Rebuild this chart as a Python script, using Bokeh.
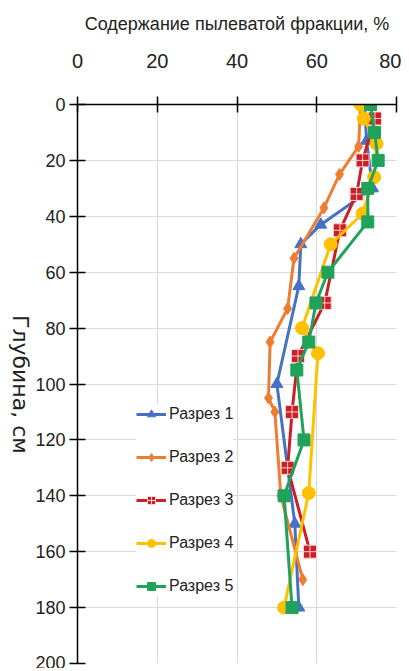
import math
from bokeh.plotting import figure
from bokeh.layouts import row
from bokeh.models import Range1d, FixedTicker, Label
from bokeh.embed import file_html
from bokeh.resources import INLINE

# ---- data ----
x_ticks = [0, 20, 40, 60, 80]
y_ticks = [0, 20, 40, 60, 80, 100, 120, 140, 160, 180, 200]

names = ["Разрез 1", "Разрез 2", "Разрез 3", "Разрез 4", "Разрез 5"]

depth1 = [0, 13, 30, 43, 50, 65, 100, 150, 180]
silt1 = [72, 72.5, 74, 61, 56, 55.5, 50, 54.5, 55.5]

depth2 = [0, 15, 25, 37, 55, 73, 85, 105, 110, 140, 170]
silt2 = [71, 70.5, 65.7, 61.8, 54.3, 52.7, 48.3, 47.9, 49.5, 51, 56.5]

depth3 = [5, 20, 32, 45, 71, 90, 110, 130, 160]
silt3 = [74.6, 71.5, 70, 65.8, 62, 55.3, 53.8, 52.7, 58.3]

depth4 = [0, 5, 14, 26, 39, 50, 80, 89, 139, 180]
silt4 = [71, 71.8, 75, 74.4, 71.5, 63.5, 56.3, 60.3, 58, 51.8]

depth5 = [0, 10, 20, 30, 42, 60, 71, 85, 95, 120, 140, 180]
silt5 = [73.5, 74.5, 75.4, 72.8, 72.8, 62.8, 59.8, 58, 55, 56.8, 51.8, 53.8]

x_title = "Содержание пылеватой фракции, %"
y_title = "Глубина, см"

FONT = "Liberation Sans"
H = 668
LW_FIG = 32

# ---- narrow strip holding the rotated y title (reads top to bottom) ----
lab = figure(width=LW_FIG, height=H, output_backend="svg", toolbar_location=None,
             x_range=Range1d(0, LW_FIG), y_range=Range1d(0, H),
             min_border=0)
lab.axis.visible = False
lab.grid.visible = False
lab.outline_line_color = None
lab.add_layout(Label(x=19.5, y=333.5, text=y_title, angle=-math.pi / 2,
                     text_align="center", text_baseline="middle",
                     text_font="DejaVu Sans", text_font_size="22px",
                     text_color="#222222"))

# ---- main chart ----
p = figure(width=401 - LW_FIG, height=H, output_backend="svg", toolbar_location=None,
           x_range=Range1d(0, 80), y_range=Range1d(200, 0),
           x_axis_location="above",
           min_border_left=77 - LW_FIG, min_border_right=5, min_border_top=104,
           min_border_bottom=5)
p.outline_line_color = None
p.background_fill_color = "white"

xa = p.xaxis[0]
xa.ticker = FixedTicker(ticks=x_ticks)
xa.axis_label = x_title
xa.axis_label_text_font = FONT
xa.axis_label_text_font_size = "18px"
xa.axis_label_text_font_style = "normal"
xa.axis_label_text_color = "#222222"
xa.axis_label_standoff = 17
xa.major_label_text_font = FONT
xa.major_label_text_font_size = "20px"
xa.major_label_text_color = "#222222"
xa.major_label_standoff = 29

ya = p.yaxis[0]
ya.ticker = FixedTicker(ticks=y_ticks)
ya.major_label_text_font = FONT
ya.major_label_text_font_size = "18px"
ya.major_label_text_color = "#222222"
ya.major_label_standoff = 4

for ax in (xa, ya):
    ax.axis_line_color = "black"
    ax.axis_line_width = 1.5
    ax.major_tick_line_color = "black"
    ax.major_tick_line_width = 1.5
    ax.major_tick_in = 8
    ax.major_tick_out = 8
    ax.minor_tick_line_color = None

p.xgrid.ticker = FixedTicker(ticks=x_ticks)
p.ygrid.ticker = FixedTicker(ticks=y_ticks)
p.xgrid.grid_line_color = "#d9d9d9"
p.ygrid.grid_line_color = "#d9d9d9"
p.xgrid.grid_line_width = 1.2
p.ygrid.grid_line_width = 1.2

blue = "#4472C4"
orange = "#ED7D31"
red = "#CC1F24"
yellow = "#FFC000"
green = "#1FA35B"

lw = 3
p.line(silt1, depth1, color=blue, line_width=lw, legend_label=names[0])
p.scatter(silt1, depth1, marker="triangle", size=12, color=blue, legend_label=names[0])

p.line(silt2, depth2, color=orange, line_width=lw, legend_label=names[1])
p.scatter(silt2, depth2, marker="diamond", size=12, color=orange, legend_label=names[1])

p.line(silt3, depth3, color=red, line_width=lw, legend_label=names[2])
p.scatter(silt3, depth3, marker="square_cross", size=13, fill_color=red,
          line_color="#ffd0d0", line_width=1, legend_label=names[2])

p.line(silt4, depth4, color=yellow, line_width=lw, legend_label=names[3])
p.scatter(silt4, depth4, marker="circle", size=13, color=yellow, legend_label=names[3])

p.line(silt5, depth5, color=green, line_width=lw, legend_label=names[4])
p.scatter(silt5, depth5, marker="square", size=12, color=green, legend_label=names[4])

lg = p.legend[0]
lg.location = (59, 67)
lg.label_text_font = FONT
lg.label_text_font_size = "16px"
lg.label_text_color = "#222222"
lg.label_height = 20
lg.glyph_height = 20
lg.glyph_width = 30
lg.spacing = 23
lg.padding = 10
lg.margin = 0
lg.label_standoff = 3
lg.border_line_color = None
lg.background_fill_color = "white"
lg.background_fill_alpha = 1.0

layout = row(lab, p, spacing=0)
open("out.html", "w").write(file_html(layout, INLINE))
